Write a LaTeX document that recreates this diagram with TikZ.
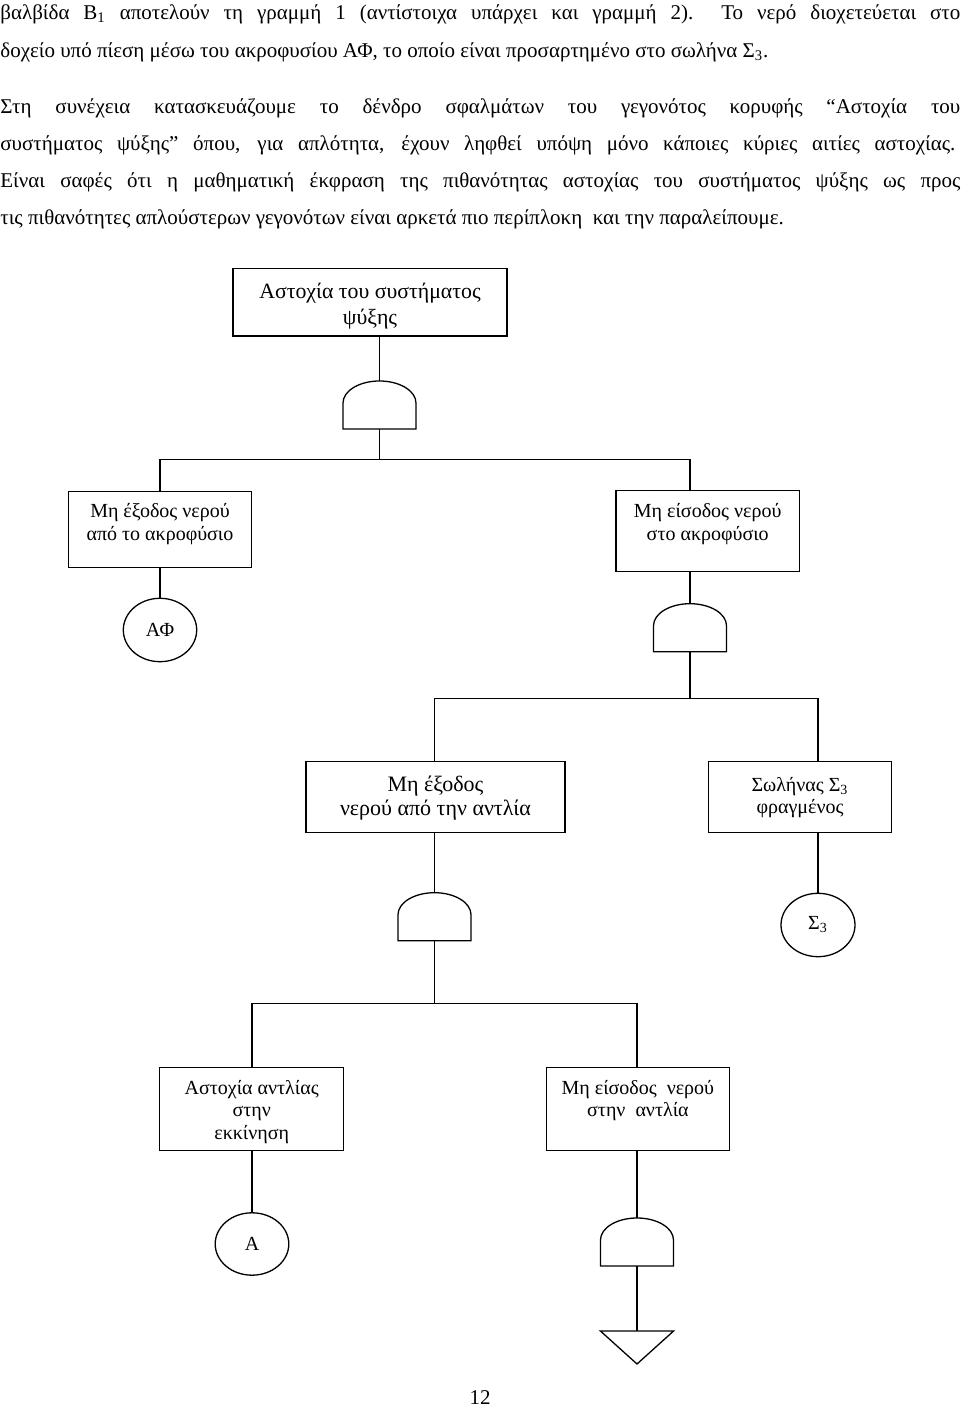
\documentclass[tikz,border=0pt]{standalone}
\usepackage{fontspec}
\setmainfont{Liberation Serif}
\usetikzlibrary{shapes.geometric}
\begin{document}
\begin{tikzpicture}[x=0.5pt,y=0.5pt,
  ln/.style={line width=0.65pt},
  box/.style={draw, line width=0.65pt, rectangle, inner sep=0pt, outer sep=0pt},
  evt/.style={draw, line width=0.65pt, ellipse, inner sep=0pt, outer sep=0pt, font=\fontsize{10pt}{12pt}\selectfont},
  lbl/.style={inner sep=0pt, align=center, font=\fontsize{10pt}{11.4pt}\selectfont},
  body/.style={inner sep=0pt, anchor=base west, font=\fontsize{10.5pt}{12pt}\selectfont},
  andgate/.pic={
    \draw[ln] (-36.5,0) -- (-36.5,26) arc[start angle=180, end angle=0, x radius=36.5, y radius=22] -- (36.5,0) -- cycle;
    \coordinate (-bot) at (0,0);
    \coordinate (-top) at (0,48);
  },
  undev/.pic={
    \draw[ln] (-36.6,0) -- (36.6,0) -- (0,-33) -- cycle;
    \coordinate (-top) at (0,0);
  }
]
\useasboundingbox (0,0) rectangle (960,1410);

% body text
\node[body] (p1) at (0,1390.5) {\makebox[480pt][s]{βαλβίδα Β\textsubscript{1} αποτελούν τη γραμμή 1 (αντίστοιχα υπάρχει και γραμμή 2).\ \ Το νερό διοχετεύεται στο}};
\node[body] (p2) at (0,1352.5) {δοχείο υπό πίεση μέσω του ακροφυσίου ΑΦ, το οποίο είναι προσαρτημένο στο σωλήνα Σ\textsubscript{3}.};
\node[body] (p3) at (0,1296) {\makebox[480pt][s]{Στη συνέχεια κατασκευάζουμε το δένδρο σφαλμάτων του γεγονότος κορυφής “Αστοχία του}};
\node[body] (p4) at (0,1259) {\makebox[477.5pt][s]{συστήματος ψύξης” όπου, για απλότητα, έχουν ληφθεί υπόψη μόνο κάποιες κύριες αιτίες αστοχίας.}};
\node[body] (p5) at (0,1222) {\makebox[480pt][s]{Είναι σαφές ότι η μαθηματική έκφραση της πιθανότητας αστοχίας του συστήματος ψύξης ως προς}};
\node[body] (p6) at (0,1185.5) {τις πιθανότητες απλούστερων γεγονότων είναι αρκετά πιο περίπλοκη\ \ και την παραλείπουμε.};

% level 1
\node[box, minimum width=137pt, minimum height=33.85pt] (root) at (370,1107.8) {};
\node[lbl, font=\fontsize{10.9pt}{13.3pt}\selectfont] (root-t) at (370,1104) {Αστοχία του συστήματος\\ψύξης};
\pic (g1) at (379.5,981) {andgate};

% level 2
\node[box, minimum width=91.7pt, minimum height=37.8pt] (L2a) at (160,880.5) {};
\node[lbl] (L2a-t) at (160,886) {Μη έξοδος νερού\\από το ακροφύσιο};
\node[box, minimum width=91.65pt, minimum height=40.5pt] (L2b) at (707.7,878.8) {};
\node[lbl] (L2b-t) at (707.7,886.3) {Μη είσοδος νερού\\στο ακροφύσιο};
\node[evt, minimum width=36.7pt, minimum height=31.7pt] (AF) at (160,780) {ΑΦ};
\pic (g2) at (690,758.3) {andgate};

% level 3
\node[box, minimum width=129.5pt, minimum height=35.3pt] (L3a) at (435.5,613) {};
\node[lbl, font=\fontsize{11pt}{12pt}\selectfont] (L3a-t) at (435.5,612) {Μη έξοδος\\νερού από την αντλία};
\node[box, minimum width=91.7pt, minimum height=35.3pt] (L3b) at (800,613) {};
\node[lbl] (L3b-t) at (800,612.4) {Σωλήνας Σ\textsubscript{3}\\φραγμένος};
\node[evt, minimum width=37pt, minimum height=31.7pt] (S3) at (818,485) {Σ\textsubscript{3}};
\pic (g3) at (434.5,469.3) {andgate};

% level 4
\node[box, minimum width=91.9pt, minimum height=41.7pt] (L4a) at (251.7,301) {};
\node[lbl] (L4a-t) at (251.7,298) {Αστοχία αντλίας\\στην\\εκκίνηση};
\node[box, minimum width=91.35pt, minimum height=41.7pt] (L4b) at (637.9,301) {};
\node[lbl] (L4b-t) at (637.9,309.4) {Μη είσοδος\ \ νερού\\στην\ \ αντλία};
\node[evt, minimum width=36.8pt, minimum height=31.2pt] (A) at (252,166) {Α};
\pic (g4) at (637,144) {andgate};
\pic (tri) at (637,79) {undev};

% page number
\node[inner sep=0pt, font=\fontsize{10.5pt}{12pt}\selectfont] (pg) at (480,12) {12};

% connectors
\coordinate (j1) at (379.5,950.7);
\coordinate (j2) at (690,711.5);
\coordinate (j3) at (434.5,406.7);
\draw[ln] (root.south -| g1-top) -- (g1-top);
\draw[ln] (g1-bot) -- (j1);
\draw[ln] (L2a.north) |- (j1) -| (L2b.north -| g2-top);
\draw[ln] (L2a.south) -- (AF.north);
\draw[ln] (L2b.south -| g2-top) -- (g2-top);
\draw[ln] (g2-bot) -- (j2);
\draw[ln] (L3a.north -| g3-top) |- (j2) -| (S3.north |- L3b.north);
\draw[ln] (L3a.south -| g3-top) -- (g3-top);
\draw[ln] (L3b.south -| S3.north) -- (S3.north);
\draw[ln] (g3-bot) -- (j3);
\draw[ln] (L4a.north -| A.north) |- (j3) -| (L4b.north -| g4-top);
\draw[ln] (L4a.south -| A.north) -- (A.north);
\draw[ln] (L4b.south -| g4-top) -- (g4-top);
\draw[ln] (g4-bot) -- (tri-top);
\end{tikzpicture}
\end{document}
